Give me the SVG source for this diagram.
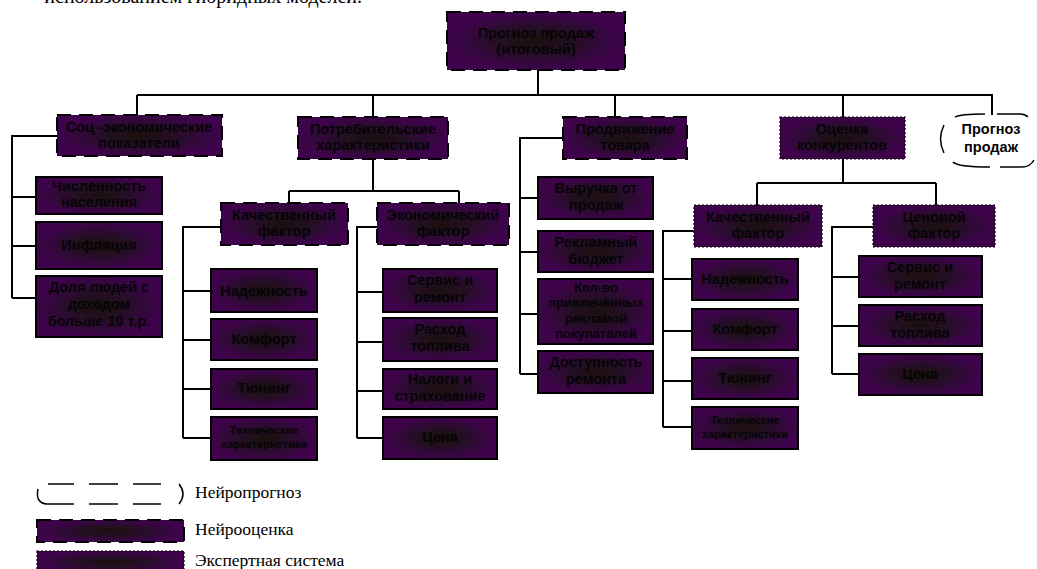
<svg xmlns="http://www.w3.org/2000/svg" width="1037" height="569" viewBox="0 0 1037 569">
<style>
.b{fill:url(#g);stroke:#000;stroke-width:2}
.n{fill:url(#g);stroke:#000;stroke-width:2;stroke-dasharray:14 8}
.e{fill:url(#g);stroke:#000;stroke-width:1.2;stroke-dasharray:2 2}
.t{font-family:"Liberation Sans",Arial,sans-serif;font-weight:bold;font-size:14.5px;fill:#050505;text-anchor:middle}
.s{font-size:11px}
.m{font-size:13px}
.l{font-family:"Liberation Serif","Times New Roman",serif;font-size:17.5px;fill:#000}
.d{fill:none;stroke:#000;stroke-width:1.5}
#c path{fill:none;stroke:#000;stroke-width:2}
</style>
<defs>
<radialGradient id="g" cx="50%" cy="50%" r="50%">
<stop offset="0" stop-color="#1b0f0c"/>
<stop offset="0.4" stop-color="#230f22"/>
<stop offset="0.8" stop-color="#35073f"/>
<stop offset="1" stop-color="#3e034a"/>
</radialGradient>
</defs>
<rect width="1037" height="569" fill="#fff"/>
<text class="l" x="362" y="3" text-anchor="end" style="font-size:20px">использованием гибридных моделей.</text>

<g id="c">
<path d="M538 70V95M137 95H993M137 95V115M373 95V117M615 95V117M843 95V117M992 95V115"/>
<path d="M57 136H12V298M12 197H36M12 246H36M12 298H36"/>
<path d="M373 159V191M289 191H459M289 191V203M459 191V203"/>
<path d="M221 227H183V438M183 291H211M183 340H211M183 389H211M183 438H211"/>
<path d="M377 227H357V438M357 292H383M357 342H383M357 391H383M357 438H383"/>
<path d="M563 138H520V374M520 198H538M520 252H538M520 314H538M520 374H538"/>
<path d="M843 159V183M757 183H936M757 183V205M936 183V205"/>
<path d="M694 231H663V427M663 279H692M663 331H692M663 381H692M663 427H692"/>
<path d="M873 227H832V374M832 277H859M832 326H859M832 374H859"/>
</g>

<g id="root"><rect class="n" x="447" y="12" width="178" height="58"/><text class="t" x="536" y="38">Прогноз продаж</text><text class="t" x="536" y="54">(итоговый)</text></g>

<g id="soc"><rect class="n" x="57" y="115" width="165" height="41"/><text class="t" x="139" y="132">Соц -экономические</text><text class="t" x="139" y="148">показатели</text></g>
<g id="potr"><rect class="n" x="298" y="117" width="150" height="42"/><text class="t" x="373" y="134">Потребительские</text><text class="t" x="373" y="150">характеристики</text></g>
<g id="prod"><rect class="n" x="563" y="117" width="124" height="42"/><text class="t" x="625" y="134">Продвижение</text><text class="t" x="625" y="150">товара</text></g>
<g id="ocen"><rect class="e" x="780" y="117" width="125" height="42"/><text class="t" x="842" y="134">Оценка</text><text class="t" x="842" y="150">конкурентов</text></g>
<g id="prog">
<path class="d" d="M944 125Q937 139 944 153M955 117Q960 114 985 114M997 114H1020Q1025 114 1028 117M953 162Q957 167 990 167M1000 167H1022Q1030 167 1034 160"/>
<text class="t" x="991" y="134">Прогноз</text><text class="t" x="991" y="152">продаж</text></g>

<g id="chisl"><rect class="b" x="36" y="177" width="126" height="37"/><text class="t" x="99" y="191">Численность</text><text class="t" x="99" y="207">населения</text></g>
<g id="infl"><rect class="b" x="36" y="222" width="126" height="47"/><text class="t" x="99" y="250">Инфляция</text></g>
<g id="dolya"><rect class="b" x="36" y="276" width="126" height="61"/><text class="t" x="99" y="292">Доля людей с</text><text class="t" x="99" y="309">доходом</text><text class="t" x="99" y="326">больше 10 т.р.</text></g>

<g id="kach1"><rect class="n" x="221" y="203" width="127" height="42"/><text class="t" x="284" y="220">Качественный</text><text class="t" x="284" y="236">фактор</text></g>
<g id="econ"><rect class="n" x="377" y="203" width="132" height="42"/><text class="t" x="443" y="220">Экономический</text><text class="t" x="443" y="236">фактор</text></g>

<g id="nad1"><rect class="b" x="211" y="269" width="106" height="43"/><text class="t" x="264" y="296">Надежность</text></g>
<g id="komf1"><rect class="b" x="211" y="319" width="106" height="41"/><text class="t" x="264" y="344">Комфорт</text></g>
<g id="tun1"><rect class="b" x="211" y="369" width="106" height="40"/><text class="t" x="264" y="393">Тюнинг</text></g>
<g id="teh1"><rect class="b" x="211" y="417" width="106" height="43"/><text class="t s" x="264" y="434">Технические</text><text class="t s" x="264" y="448">характеристики</text></g>

<g id="serv1"><rect class="b" x="383" y="269" width="114" height="43"/><text class="t" x="440" y="285">Сервис и</text><text class="t" x="440" y="302">ремонт</text></g>
<g id="rash1"><rect class="b" x="383" y="318" width="114" height="43"/><text class="t" x="440" y="334">Расход</text><text class="t" x="440" y="351">топлива</text></g>
<g id="nalog"><rect class="b" x="383" y="369" width="114" height="40"/><text class="t" x="440" y="384">Налоги и</text><text class="t" x="440" y="401">страхование</text></g>
<g id="cena1"><rect class="b" x="383" y="417" width="114" height="42"/><text class="t" x="440" y="442">Цена</text></g>

<g id="vyr"><rect class="b" x="538" y="177" width="115" height="42"/><text class="t" x="596" y="193">Выручка от</text><text class="t" x="596" y="210">продаж</text></g>
<g id="rekl"><rect class="b" x="538" y="231" width="115" height="41"/><text class="t" x="596" y="247">Рекламный</text><text class="t" x="596" y="264">бюджет</text></g>
<g id="kolvo"><rect class="b" x="538" y="279" width="115" height="65"/><text class="t m" x="596" y="292">Кол-во</text><text class="t m" x="596" y="307">привлечённых</text><text class="t m" x="596" y="323">рекламой</text><text class="t m" x="596" y="338">покупателей</text></g>
<g id="dost"><rect class="b" x="538" y="351" width="115" height="42"/><text class="t" x="596" y="367">Доступность</text><text class="t" x="596" y="384">ремонта</text></g>

<g id="kach2"><rect class="e" x="694" y="205" width="128" height="42"/><text class="t" x="758" y="222">Качественный</text><text class="t" x="758" y="238">фактор</text></g>
<g id="cenf"><rect class="e" x="873" y="205" width="122" height="42"/><text class="t" x="934" y="222">Ценовой</text><text class="t" x="934" y="238">фактор</text></g>

<g id="nad2"><rect class="b" x="692" y="259" width="106" height="41"/><text class="t" x="745" y="284">Надежность</text></g>
<g id="komf2"><rect class="b" x="692" y="309" width="106" height="41"/><text class="t" x="745" y="334">Комфорт</text></g>
<g id="tun2"><rect class="b" x="692" y="358" width="106" height="41"/><text class="t" x="745" y="383">Тюнинг</text></g>
<g id="teh2"><rect class="b" x="692" y="407" width="106" height="42"/><text class="t s" x="745" y="424">Технические</text><text class="t s" x="745" y="438">характеристики</text></g>

<g id="serv2"><rect class="b" x="859" y="256" width="123" height="41"/><text class="t" x="920" y="272">Сервис и</text><text class="t" x="920" y="289">ремонт</text></g>
<g id="rash2"><rect class="b" x="859" y="305" width="123" height="41"/><text class="t" x="920" y="321">Расход</text><text class="t" x="920" y="338">топлива</text></g>
<g id="cena2"><rect class="b" x="859" y="354" width="123" height="41"/><text class="t" x="920" y="379">Цена</text></g>

<g id="legend">
<path class="d" d="M38 489Q35 503 47 504H74M89 504H118M133 504H161M48 484H74M89 484H118M133 484H161M179 484Q187 494 179 504"/>
<text class="l" x="195" y="498">Нейропрогноз</text>
<rect class="n" x="37" y="520" width="147" height="22"/>
<text class="l" x="195" y="535">Нейрооценка</text>
<rect class="e" x="37" y="551" width="147" height="22"/>
<text class="l" x="195" y="566">Экспертная система</text>
</g>
</svg>
